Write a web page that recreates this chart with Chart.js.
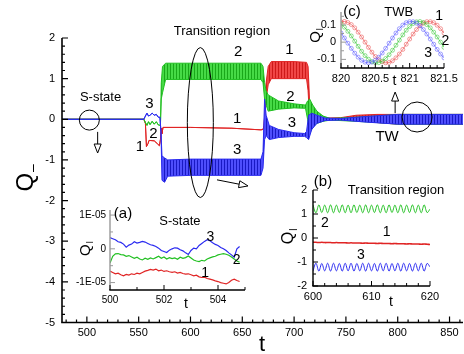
<!DOCTYPE html>
<html><head><meta charset="utf-8">
<script src="https://cdn.jsdelivr.net/npm/chart.js@4.4.1/dist/chart.umd.min.js"></script>
<style>
html,body{margin:0;padding:0;background:#fff;}
#wrap{position:relative;width:464px;height:354px;overflow:hidden;background:#fff;}
canvas{position:absolute;}
</style></head><body>
<div id="wrap">
<canvas id="cMain" width="464" height="354" style="left:0;top:0"></canvas>
<canvas id="cA" width="205" height="125" style="left:45px;top:195px"></canvas>
<canvas id="cB" width="190" height="140" style="left:270px;top:170px"></canvas>
<canvas id="cC" width="164" height="95" style="left:300px;top:0"></canvas>
</div>
<script>
// ---------- MAIN CHART DATA (t, Q_l envelopes: Lo/Hi of each series) ----------
const t1   = [476,555,556.5,557.5,559,560,565,568,570,571,571.8,572.5,573.5,600,640,668,670,671,672,673,675,678,700,712,713.5,715,717,720,730,745,760,780,800,863];
const q1Lo = [0,0,-0.1,-0.67,-0.6,-0.52,-0.53,-0.6,-0.65,-0.5,-0.22,-0.35,-0.2,-0.2,-0.22,-0.26,-0.25,-0.15,0.2,0.5,0.85,1.0,1.0,1.0,0.7,0,-0.12,-0.03,0,0,-0.02,-0.08,-0.12,-0.12];
const q1Hi = [0,0,-0.1,-0.67,-0.6,-0.52,-0.53,-0.6,-0.65,-0.5,-0.22,-0.35,-0.2,-0.2,-0.22,-0.26,-0.25,-0.15,0.3,0.9,1.3,1.42,1.42,1.4,1.3,0.4,0.12,0.05,0.03,0.04,0.1,0.12,0.12,0.12];

const t2   = [476,555,556.5,558,559.5,561,563,565,567,569,571,571.8,573,576,600,640,668,670,671.5,673,675,685,700,711,713,715,718,722,728,735,760,780,800,863];
const q2Lo = [0,0,-0.08,-0.15,-0.06,-0.13,-0.05,-0.12,-0.06,-0.14,-0.15,0.5,0.65,0.98,0.98,0.98,0.98,0.9,0.5,0.35,0.2,0.25,0.28,0.27,0.0,-0.35,-0.2,-0.1,-0.05,-0.02,-0.05,-0.08,-0.12,-0.12];
const q2Hi = [0,0,-0.08,-0.15,-0.06,-0.13,-0.05,-0.12,-0.06,-0.14,-0.15,0.9,1.3,1.38,1.38,1.38,1.38,1.3,0.9,0.7,0.6,0.45,0.38,0.35,0.45,0.5,0.35,0.2,0.08,0.02,0.05,0.08,0.12,0.12];

const t3   = [476,555,556.5,558,559.5,561,563,565,567,569,570.5,571.5,572.5,575,578,600,640,668,670,671.5,673,676,685,700,710,712,714,717,722,730,745,770,800,863];
const q3Lo = [0,0,0.08,0.15,0.08,0.1,0.15,0.1,0.12,0.05,0.05,-0.3,-1.5,-1.55,-1.4,-1.38,-1.38,-1.38,-1.2,-0.5,-0.4,-0.5,-0.45,-0.42,-0.42,-0.45,-0.5,-0.25,-0.1,-0.03,-0.02,-0.07,-0.12,-0.12];
const q3Hi = [0,0,0.08,0.15,0.08,0.1,0.15,0.1,0.12,0.05,0.05,-0.3,-0.9,-0.95,-1.0,-0.98,-0.98,-0.98,-0.8,0.5,0.1,-0.15,-0.25,-0.33,-0.35,-0.3,0.1,0.15,0.1,0.03,0.02,0.07,0.12,0.12];

const mainXTicks = [500,550,600,650,700,750,800,850];
const mainYTicks = [-5,-4,-3,-2,-1,0,1,2];

// ---------- INSET (a): S-state, values in units of 1E-05 ----------
const tA = [500,500.1,500.2,500.3,500.4,500.5,500.6,500.7,500.8,500.9,501,501.1,501.2,501.3,501.4,501.5,501.6,501.7,501.8,501.9,502,502.1,502.2,502.3,502.4,502.5,502.6,502.7,502.8,502.9,503,503.1,503.2,503.3,503.4,503.5,503.6,503.7,503.8,503.9,504,504.1,504.2,504.3,504.4,504.5,504.6,504.7,504.8];
const a1 = [-0.66,-0.70,-0.74,-0.72,-0.77,-0.80,-0.76,-0.78,-0.74,-0.76,-0.72,-0.74,-0.70,-0.66,-0.64,-0.61,-0.63,-0.60,-0.65,-0.63,-0.67,-0.65,-0.68,-0.70,-0.68,-0.72,-0.70,-0.73,-0.75,-0.74,-0.77,-0.80,-0.78,-0.83,-0.85,-0.84,-0.88,-0.90,-0.92,-0.95,-0.97,-1.00,-1.02,-1.04,-1.00,-0.93,-0.90,-0.94,-0.97];
const a2 = [-0.42,-0.22,-0.15,-0.14,-0.17,-0.18,-0.22,-0.20,-0.24,-0.28,-0.25,-0.30,-0.33,-0.28,-0.31,-0.27,-0.30,-0.26,-0.22,-0.28,-0.24,-0.30,-0.26,-0.29,-0.27,-0.31,-0.25,-0.28,-0.26,-0.21,-0.27,-0.33,-0.36,-0.38,-0.34,-0.36,-0.30,-0.27,-0.24,-0.22,-0.18,-0.16,-0.14,-0.16,-0.19,-0.24,-0.30,-0.36,-0.40];
const a3 = [0.33,0.30,0.27,0.21,0.19,0.14,0.05,0.11,0.14,0.21,0.17,0.19,0.22,0.20,0.16,0.12,0.10,0.07,0.02,-0.05,-0.08,-0.11,-0.04,0.00,0.03,0.02,-0.03,-0.06,-0.12,-0.17,-0.05,0.02,0.00,0.10,0.16,0.22,0.27,0.24,0.18,0.13,0.10,0.04,0.00,-0.05,-0.12,-0.18,-0.25,0.00,0.07];
const aXTicks = [500,502,504];
const aYTicks = [-1,0,1];

// ---------- INSET (b): transition region ----------
const tB = [600,600.5,601,601.5,602,602.5,603,603.5,604,604.5,605,605.5,606,606.5,607,607.5,608,608.5,609,609.5,610,610.5,611,611.5,612,612.5,613,613.5,614,614.5,615,615.5,616,616.5,617,617.5,618,618.5,619,619.5,620];
const b1 = [-0.18,-0.18,-0.19,-0.18,-0.19,-0.19,-0.19,-0.20,-0.19,-0.20,-0.20,-0.20,-0.21,-0.20,-0.21,-0.21,-0.21,-0.22,-0.21,-0.22,-0.22,-0.22,-0.23,-0.22,-0.23,-0.23,-0.23,-0.24,-0.23,-0.24,-0.24,-0.24,-0.25,-0.24,-0.25,-0.25,-0.25,-0.26,-0.25,-0.26,-0.27];
const b2 = [1.37,1.05,1.38,1.06,1.37,1.05,1.38,1.05,1.37,1.06,1.38,1.05,1.37,1.05,1.38,1.06,1.37,1.05,1.38,1.05,1.37,1.06,1.38,1.05,1.37,1.05,1.38,1.06,1.37,1.05,1.38,1.05,1.37,1.06,1.38,1.05,1.37,1.05,1.38,1.06,1.2];
const b3 = [-1.37,-1.05,-1.38,-1.06,-1.37,-1.05,-1.38,-1.05,-1.37,-1.06,-1.38,-1.05,-1.37,-1.05,-1.38,-1.06,-1.37,-1.05,-1.38,-1.05,-1.37,-1.06,-1.38,-1.05,-1.37,-1.05,-1.38,-1.06,-1.37,-1.05,-1.38,-1.05,-1.37,-1.06,-1.38,-1.05,-1.37,-1.05,-1.38,-1.06,-1.2];
const bXTicks = [600,610,620];
const bYTicks = [-2,-1,0,1,2];

// ---------- INSET (c): TWB ----------
const tC = [820,820.05,820.1,820.15,820.2,820.25,820.3,820.35,820.4,820.45,820.5,820.55,820.6,820.65,820.7,820.75,820.8,820.85,820.9,820.95,821,821.05,821.1,821.15,821.2,821.25,821.3,821.35,821.4,821.45,821.5];
const c1 = [0.118,0.120,0.114,0.102,0.083,0.058,0.030,0.000,-0.030,-0.058,-0.083,-0.102,-0.114,-0.120,-0.118,-0.108,-0.091,-0.069,-0.042,-0.012,0.018,0.047,0.073,0.095,0.110,0.119,0.119,0.113,0.098,0.078,0.053];
const c2 = [0.105,0.087,0.063,0.036,0.006,-0.024,-0.053,-0.078,-0.099,-0.113,-0.119,-0.119,-0.110,-0.095,-0.073,-0.047,-0.018,0.012,0.042,0.069,0.091,0.108,0.118,0.120,0.114,0.102,0.083,0.058,0.030,0.000,-0.030];
const c3 = [0.053,0.024,-0.006,-0.036,-0.064,-0.087,-0.105,-0.116,-0.120,-0.116,-0.105,-0.087,-0.063,-0.036,-0.006,0.024,0.053,0.078,0.099,0.113,0.119,0.119,0.110,0.095,0.073,0.047,0.018,-0.012,-0.042,-0.069,-0.091];
const cXTicks = [820,820.5,821,821.5];
const cYTicks = [-0.1,0,0.1];

// ---------- styling ----------
const FONT = "'Liberation Sans', Arial, Helvetica, sans-serif";
Chart.defaults.font.family = FONT;
Chart.defaults.color = '#000';
Chart.defaults.animation = false;
const RED = '#e02424', GREEN = '#22c022', BLUE = '#2a2af0';

function stripes(base, dark) {
  const c = document.createElement('canvas'); c.width = 3; c.height = 4;
  const g = c.getContext('2d');
  g.fillStyle = base; g.fillRect(0, 0, 3, 4);
  g.fillStyle = dark; g.fillRect(2, 0, 1, 4);
  return g.createPattern(c, 'repeat');
}

const pts = (t, v) => t.map((x, i) => ({x: x, y: v[i]}));
function range(a, b, s, skip) { const r = []; for (let i = 0; ; i++) { const v = +(a + i * s).toFixed(6); if (v > b + 1e-9) break; if (!skip.some(k => Math.abs(k - v) < 1e-9)) r.push(v); } return r; }

function axesPlugin(c) {
  return { id: 'tecAxes', afterDraw(chart) {
    const ctx = chart.ctx, a = chart.chartArea, x = chart.scales.x, y = chart.scales.y;
    ctx.save();
    ctx.lineWidth = c.width;
    ctx.strokeStyle = c.leftColor;
    ctx.beginPath(); ctx.moveTo(a.left, a.top); ctx.lineTo(a.left, a.bottom); ctx.stroke();
    ctx.strokeStyle = c.bottomColor;
    ctx.beginPath(); ctx.moveTo(a.left - c.width / 2, a.bottom); ctx.lineTo(a.right, a.bottom); ctx.stroke();
    ctx.lineWidth = c.tickWidth;
    const xt = (vals, len) => { ctx.beginPath(); vals.forEach(v => { const p = x.getPixelForValue(v); ctx.moveTo(p, a.bottom); ctx.lineTo(p, a.bottom - len); }); ctx.stroke(); };
    const yt = (vals, len) => { ctx.beginPath(); vals.forEach(v => { const p = y.getPixelForValue(v); ctx.moveTo(a.left, p); ctx.lineTo(a.left + len, p); }); ctx.stroke(); };
    ctx.strokeStyle = c.bottomColor; xt(c.xMajor, c.major); xt(c.xMinor, c.minor);
    ctx.strokeStyle = c.leftColor; yt(c.yMajor, c.major); yt(c.yMinor, c.minor);
    ctx.restore();
  }};
}

function drawArrow(ctx, x0, y0, x1, y1) {
  const ang = Math.atan2(y1 - y0, x1 - x0), L = 9, W = 3.5;
  const bx = x1 - L * Math.cos(ang), by = y1 - L * Math.sin(ang);
  ctx.beginPath(); ctx.moveTo(x0, y0); ctx.lineTo(bx, by); ctx.stroke();
  ctx.beginPath(); ctx.moveTo(x1, y1);
  ctx.lineTo(bx + W * Math.sin(ang), by - W * Math.cos(ang));
  ctx.lineTo(bx - W * Math.sin(ang), by + W * Math.cos(ang));
  ctx.closePath(); ctx.fillStyle = '#fff'; ctx.fill(); ctx.stroke();
}

function notesPlugin(n) {
  return { id: 'notes', afterDraw(chart) {
    const ctx = chart.ctx, x = chart.scales.x, y = chart.scales.y;
    const P = (t, v) => [x.getPixelForValue(t), y.getPixelForValue(v)];
    ctx.save();
    ctx.strokeStyle = '#000'; ctx.lineWidth = 1;
    (n.ellipses || []).forEach(e => { const [px, py] = P(e.t, e.v); ctx.beginPath(); ctx.ellipse(px, py, e.rx, e.ry, 0, 0, 2 * Math.PI); ctx.stroke(); });
    (n.arrows || []).forEach(r => { const [x0, y0] = P(r.t0, r.v0), [x1, y1] = P(r.t1, r.v1); drawArrow(ctx, x0, y0, x1, y1); });
    ctx.fillStyle = '#000'; ctx.textAlign = 'center'; ctx.textBaseline = 'middle';
    (n.texts || []).forEach(s => { const [px, py] = P(s.t, s.v); ctx.font = s.size + 'px ' + FONT; ctx.fillText(s.s, px, py); });
    if (n.q) {
      const [px, py] = P(n.q.t, n.q.v);
      ctx.translate(px, py); ctx.rotate(-Math.PI / 2);
      ctx.font = n.q.size + 'px ' + FONT;
      ctx.fillText('Q', 0, 0);
      const w = ctx.measureText('Q').width;
      ctx.font = Math.round(n.q.size * 0.6) + 'px ' + FONT; ctx.textAlign = 'left';
      ctx.fillText(n.q.sub, w / 2 + 1, n.q.size * 0.3);
    }
    ctx.restore();
  }};
}

function makeChart(id, datasets, sx, sy, pad, yWidth, xHeight, plugins) {
  return new Chart(document.getElementById(id), {
    type: 'line',
    data: { datasets },
    options: {
      responsive: false, animation: false, parsing: true,
      layout: { padding: pad },
      plugins: { legend: { display: false }, tooltip: { enabled: false } },
      elements: { point: { radius: 0 }, line: { borderWidth: 1 } },
      scales: {
        x: { type: 'linear', min: sx.min, max: sx.max, grid: { display: false, drawTicks: false }, border: { display: false },
             ticks: { font: { size: sx.font }, padding: sx.pad, maxRotation: 0, autoSkip: false, callback: sx.fmt },
             afterBuildTicks: s => { s.ticks = sx.ticks.map(v => ({ value: v })); },
             afterFit: s => { s.height = xHeight; } },
        y: { type: 'linear', min: sy.min, max: sy.max, grid: { display: false, drawTicks: false }, border: { display: false },
             ticks: { font: { size: sy.font }, padding: sy.pad, autoSkip: false, callback: sy.fmt },
             afterBuildTicks: s => { s.ticks = sy.ticks.map(v => ({ value: v })); },
             afterFit: s => { s.width = yWidth; } }
      }
    },
    plugins
  });
}

// ---------- MAIN ----------
function band(t, lo, hi, col, fillCol, order) {
  return [
    { data: pts(t, lo), borderColor: col, borderWidth: 1, pointRadius: 0, fill: false, order },
    { data: pts(t, hi), borderColor: col, borderWidth: 1, pointRadius: 0, fill: '-1', backgroundColor: fillCol, order }
  ];
}
makeChart('cMain',
  [].concat(band(t1, q1Lo, q1Hi, RED, stripes('rgb(240,70,70)', 'rgb(205,25,25)'), 3),
            band(t2, q2Lo, q2Hi, GREEN, stripes('rgb(70,218,70)', 'rgb(25,168,25)'), 2),
            band(t3, q3Lo, q3Hi, BLUE, stripes('rgb(78,78,252)', 'rgb(25,25,195)'), 1)),
  { min: 476, max: 863, ticks: mainXTicks, font: 11, pad: 4, fmt: v => String(v) },
  { min: -5, max: 2, ticks: mainYTicks, font: 11, pad: 7, fmt: v => String(v) },
  { left: 0, right: 1, top: 38, bottom: 0 }, 62, 31.5,
  [axesPlugin({ width: 1.6, tickWidth: 1.2, major: 6, minor: 3, leftColor: '#000', bottomColor: '#000',
      xMajor: mainXTicks, xMinor: range(480, 860, 10, mainXTicks),
      yMajor: mainYTicks, yMinor: range(-5, 2, 0.2, mainYTicks) }),
   notesPlugin({
     texts: [
       { s: 'Transition region', t: 630.4, v: 2.17, size: 13 },
       { s: 'S-state', t: 513.2, v: 0.55, size: 13 },
       { s: '3', t: 560.4, v: 0.37, size: 15 },
       { s: '2', t: 564.3, v: -0.37, size: 15 },
       { s: '1', t: 551.3, v: -0.67, size: 15 },
       { s: '2', t: 646.0, v: 1.65, size: 15 },
       { s: '1', t: 645.0, v: 0.0, size: 15 },
       { s: '3', t: 645.0, v: -0.75, size: 15 },
       { s: '1', t: 695.4, v: 1.70, size: 15 },
       { s: '2', t: 696.4, v: 0.55, size: 15 },
       { s: '3', t: 698.0, v: -0.10, size: 15 },
       { s: 'TW', t: 789.7, v: -0.44, size: 15 },
       { s: 't', t: 669, v: -5.55, size: 22 }
     ],
     ellipses: [
       { t: 502.4, v: -0.02, rx: 10, ry: 10 },
       { t: 609.5, v: -0.08, rx: 13, ry: 75 },
       { t: 818.7, v: 0.056, rx: 15, ry: 15 }
     ],
     arrows: [
       { t0: 510.4, v0: -0.31, t1: 510.4, v1: -0.83 },
       { t0: 797.5, v0: 0.15, t1: 797.5, v1: 0.67 },
       { t0: 625.6, v0: -1.49, t1: 655.5, v1: -1.64 }
     ],
     q: { t: 441.5, v: -1.55, size: 24, sub: '\u2013' }
   })]);

// ---------- INSET (a) ----------
const lineDs = (t, v, col, w) => ({ data: pts(t, v), borderColor: col, borderWidth: w, pointRadius: 0, fill: false });
makeChart('cA',
  [lineDs(tA, a3, BLUE, 1.2), lineDs(tA, a2, GREEN, 1.2), lineDs(tA, a1, RED, 1.2)],
  { min: 500, max: 505, ticks: aXTicks, font: 10, pad: 4, fmt: v => String(v) },
  { min: -1.22, max: 1.15, ticks: aYTicks, font: 10, pad: 4, fmt: v => v === 0 ? '0' : (v > 0 ? '1E-05' : '-1E-05') },
  { left: 0, right: 5, top: 15, bottom: 0 }, 65, 30,
  [axesPlugin({ width: 1.4, tickWidth: 1, major: 5, minor: 3, leftColor: '#999', bottomColor: '#000',
      xMajor: aXTicks, xMinor: [501, 503, 505], yMajor: aYTicks, yMinor: [-0.5, 0.5] }),
   notesPlugin({
     texts: [
       { s: '(a)', t: 500.48, v: 1.03, size: 15 },
       { s: 'S-state', t: 502.59, v: 0.81, size: 13 },
       { s: '3', t: 503.72, v: 0.335, size: 14 },
       { s: '2', t: 504.69, v: -0.33, size: 14 },
       { s: '1', t: 503.52, v: -0.71, size: 14 },
       { s: 't', t: 502.81, v: -1.64, size: 14 }
     ],
     q: { t: 499.1, v: -0.04, size: 15, sub: 'l' }
   })]);

// ---------- INSET (b) ----------
const waveDs = (t, v, col, w) => ({ data: pts(t, v), borderColor: col, borderWidth: w, pointRadius: 0, fill: false, tension: 0.35 });
makeChart('cB',
  [waveDs(tB, b3, BLUE, 1), waveDs(tB, b1, RED, 1.6), waveDs(tB, b2, GREEN, 1)],
  { min: 600, max: 620, ticks: bXTicks, font: 11, pad: 4, fmt: v => String(v) },
  { min: -2, max: 2, ticks: bYTicks, font: 11, pad: 6, fmt: v => String(v) },
  { left: 0, right: 30, top: 20, bottom: 0 }, 43, 24,
  [axesPlugin({ width: 1.4, tickWidth: 1, major: 5, minor: 3, leftColor: '#000', bottomColor: '#000',
      xMajor: bXTicks, xMinor: [602, 604, 606, 608, 612, 614, 616, 618], yMajor: bYTicks, yMinor: [-1.5, -0.5, 0.5, 1.5] }),
   notesPlugin({
     texts: [
       { s: '(b)', t: 601.71, v: 2.33, size: 15 },
       { s: 'Transition region', t: 614.19, v: 1.98, size: 13 },
       { s: '2', t: 602.05, v: 0.61, size: 14 },
       { s: '1', t: 612.6, v: 0.26, size: 14 },
       { s: '3', t: 608.2, v: -0.71, size: 14 },
       { s: 't', t: 613.33, v: -2.67, size: 14 }
     ],
     q: { t: 595.9, v: 0, size: 16, sub: 'l' }
   })]);

// ---------- INSET (c) ----------
const markDs = (t, v, col) => ({ data: pts(t, v), borderColor: col, borderWidth: 1, pointRadius: 2, pointStyle: 'circle',
  pointBorderColor: col, pointBackgroundColor: 'rgba(255,255,255,0)', pointBorderWidth: 0.8, fill: false, tension: 0.3 });
makeChart('cC',
  [markDs(tC, c3, 'rgba(90,90,255,0.7)'), markDs(tC, c2, 'rgba(60,200,60,0.7)'), markDs(tC, c1, 'rgba(235,80,80,0.7)')],
  { min: 820, max: 821.5, ticks: cXTicks, font: 11, pad: 4, fmt: v => String(v) },
  { min: -0.15, max: 0.175, ticks: cYTicks, font: 11, pad: 5, fmt: v => String(v) },
  { left: 0, right: 20, top: 12, bottom: 0 }, 41, 27,
  [axesPlugin({ width: 1.4, tickWidth: 1, major: 5, minor: 3, leftColor: '#999', bottomColor: '#000',
      xMajor: cXTicks, xMinor: [820.1, 820.2, 820.3, 820.4, 820.6, 820.7, 820.8, 820.9, 821.1, 821.2, 821.3, 821.4], yMajor: cYTicks, yMinor: [-0.05, 0.05, 0.15] }),
   notesPlugin({
     texts: [
       { s: '(c)', t: 820.16, v: 0.175, size: 15 },
       { s: 'TWB', t: 820.84, v: 0.171, size: 13 },
       { s: '1', t: 821.43, v: 0.152, size: 14 },
       { s: '2', t: 821.52, v: 0.003, size: 14 },
       { s: '3', t: 821.27, v: -0.061, size: 14 },
       { s: 't', t: 820.78, v: -0.229, size: 14 }
     ],
     q: { t: 819.63, v: 0.03, size: 15, sub: 'l' }
   })]);
</script>
</body></html>
